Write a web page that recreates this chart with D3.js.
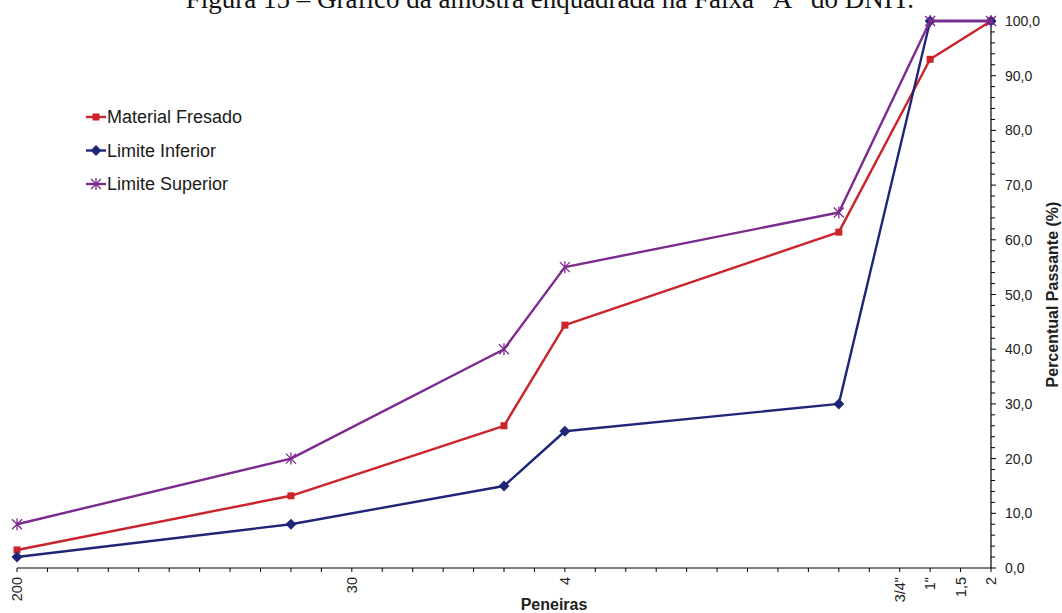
<!DOCTYPE html>
<html><head><meta charset="utf-8">
<script src="https://cdn.jsdelivr.net/npm/d3@7"></script>
<style>html,body{margin:0;padding:0;background:#fff;overflow:hidden}</style>
</head><body>
<svg id="c" width="1062" height="613"></svg>
<script>
// Sieve positions on the category axis (index) and labels
const tickCount = 33;
const tickLabels = [
  {i: 0, label: "200"}, {i: 11, label: "30"}, {i: 18, label: "4"},
  {i: 29, label: "3/4\""}, {i: 30, label: "1\""}, {i: 31, label: "1,5"}, {i: 32, label: "2"}
];
const sieveIndex = [0, 9, 16, 18, 27, 30, 32];
const materialFresado = [3.3, 13.2, 26.0, 44.4, 61.4, 93.0, 100.0];
const limiteInferior = [2, 8, 15, 25, 30, 100, 100];
const limiteSuperior = [8, 20, 40, 55, 65, 100, 100];
const yTicks = [0,10,20,30,40,50,60,70,80,90,100];

const svg = d3.select("#c");
const x = d3.scaleLinear().domain([0, tickCount - 1]).range([17, 991]);
const y = d3.scaleLinear().domain([0, 100]).range([568, 21]);

// title (cut off at top)
svg.append("text").attr("x", 914).attr("y", 8).attr("text-anchor", "end")
  .attr("font-family", "Liberation Serif, Times New Roman, serif").attr("font-size", 27)
  .attr("fill", "#111").text("Figura 15 – Gráfico da amostra enquadrada na Faixa “A” do DNIT.");

// x axis
const gx = svg.append("g").attr("transform", "translate(0,568)");
gx.append("line").attr("x1", x(0)).attr("x2", x(tickCount - 1)).attr("stroke", "#000").attr("stroke-width", 1.2);
gx.selectAll("line.t").data(d3.range(tickCount)).join("line").attr("class", "t")
  .attr("x1", d => x(d)).attr("x2", d => x(d)).attr("y1", 0).attr("y2", 4)
  .attr("stroke", "#000").attr("stroke-width", 1);
gx.selectAll("text").data(tickLabels).join("text")
  .attr("transform", d => `translate(${x(d.i)},9) rotate(-90)`)
  .attr("text-anchor", "end").attr("dy", "0.36em")
  .attr("font-family", "Liberation Sans, Arial, sans-serif").attr("font-size", 14.5)
  .attr("fill", "#222").text(d => d.label);
svg.append("text").attr("x", 554).attr("y", 610).attr("text-anchor", "middle")
  .attr("font-family", "Liberation Sans, Arial, sans-serif").attr("font-weight", "bold")
  .attr("font-size", 16).attr("fill", "#222").text("Peneiras");

// y axis (right)
const gy = svg.append("g").attr("transform", "translate(991,0)");
gy.append("line").attr("y1", y(0)).attr("y2", y(100)).attr("stroke", "#000").attr("stroke-width", 1.2);
gy.selectAll("line.m").data(d3.range(0, 101, 2)).join("line").attr("class", "m")
  .attr("x1", 0).attr("x2", d => d % 10 === 0 ? 5 : 4).attr("y1", d => y(d)).attr("y2", d => y(d))
  .attr("stroke", "#000").attr("stroke-width", 1);
gy.selectAll("text").data(yTicks).join("text")
  .attr("x", 14).attr("y", d => y(d)).attr("dy", "0.36em")
  .attr("font-family", "Liberation Sans, Arial, sans-serif").attr("font-size", 14)
  .attr("fill", "#222").text(d => d3.format(".1f")(d).replace(".", ","));
svg.append("text").attr("transform", `translate(1058,${(y(0) + y(100)) / 2}) rotate(-90)`)
  .attr("text-anchor", "middle")
  .attr("font-family", "Liberation Sans, Arial, sans-serif").attr("font-weight", "bold")
  .attr("font-size", 16).attr("fill", "#222").text("Percentual Passante (%)");

const series = [
  {name: "Material Fresado", values: materialFresado, color: "#cc2229", marker: "square"},
  {name: "Limite Inferior", values: limiteInferior, color: "#1f2677", marker: "diamond"},
  {name: "Limite Superior", values: limiteSuperior, color: "#7d2a8f", marker: "star"}
];
const line = d3.line().x(d => x(d[0])).y(d => y(d[1]));

function drawMarker(g, type, cx, cy, color) {
  if (type === "square") {
    g.append("rect").attr("x", cx - 3.5).attr("y", cy - 3.5).attr("width", 7).attr("height", 7).attr("fill", color);
  } else if (type === "diamond") {
    g.append("path").attr("d", `M${cx},${cy-5.5}L${cx+5.5},${cy}L${cx},${cy+5.5}L${cx-5.5},${cy}Z`).attr("fill", color);
  } else {
    const r = 5;
    g.append("path").attr("d", `M${cx-r},${cy-r}L${cx+r},${cy+r}M${cx-r},${cy+r}L${cx+r},${cy-r}M${cx},${cy-r-1}L${cx},${cy+r+1}`)
      .attr("stroke", color).attr("stroke-width", 1.3).attr("fill", "none");
  }
}

series.forEach(s => {
  const pts = sieveIndex.map((xi, k) => [xi, s.values[k]]);
  const g = svg.append("g");
  g.append("path").attr("d", line(pts)).attr("fill", "none").attr("stroke", s.color).attr("stroke-width", 2.4)
    .attr("stroke-linejoin", "round");
  pts.forEach(p => drawMarker(g, s.marker, x(p[0]), y(p[1]), s.color));
});

// legend
const lg = svg.append("g");
series.forEach((s, k) => {
  const cy = 117 + k * 33.5;
  lg.append("line").attr("x1", 86).attr("x2", 106).attr("y1", cy).attr("y2", cy)
    .attr("stroke", s.color).attr("stroke-width", 2.4);
  drawMarker(lg, s.marker, 96, cy, s.color);
  lg.append("text").attr("x", 107).attr("y", cy).attr("dy", "0.36em")
    .attr("font-family", "Liberation Sans, Arial, sans-serif").attr("font-size", 18)
    .attr("fill", "#1a1a1a").text(s.name);
});
</script>
</body></html>
